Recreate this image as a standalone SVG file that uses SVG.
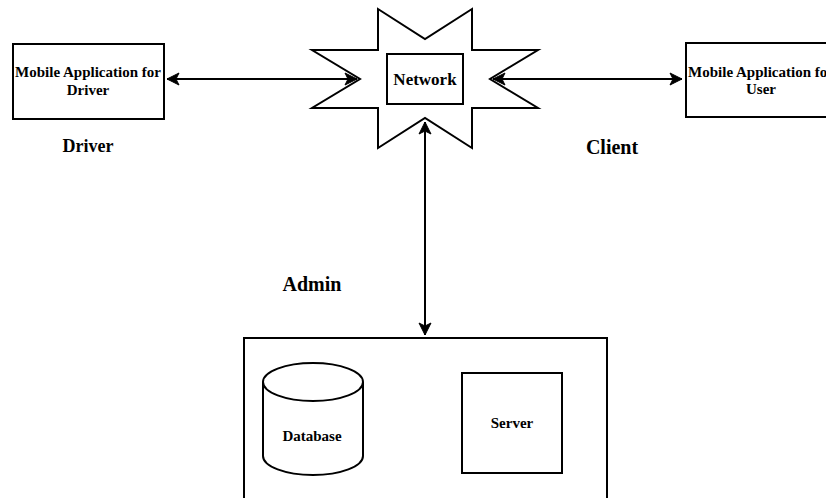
<svg xmlns="http://www.w3.org/2000/svg" width="826" height="498" viewBox="0 0 826 498">
<style>
.box{fill:#fff;stroke:#000;stroke-width:2}
.t{font-family:"Liberation Serif","Times New Roman",serif;font-weight:bold;fill:#000;text-anchor:middle}
.c{stroke:#000;stroke-width:2;fill:none}
</style>
<defs>
<marker id="ae" markerUnits="userSpaceOnUse" markerWidth="14" markerHeight="14" viewBox="0 0 14 14" refX="13" refY="7" orient="auto-start-reverse">
<path d="M1,1 L13,7 L1,13 L4,7 Z" fill="#000" stroke="#000" stroke-width="1"/>
</marker>
</defs>
<rect width="826" height="498" fill="#fff"/>
<g id="connectors">
<line class="c" x1="167" y1="79" x2="357" y2="79" marker-start="url(#ae)" marker-end="url(#ae)"/>
<line class="c" x1="493" y1="79" x2="682" y2="79" marker-start="url(#ae)" marker-end="url(#ae)"/>
<line class="c" x1="425" y1="122" x2="425" y2="335" marker-start="url(#ae)" marker-end="url(#ae)"/>
<line class="c" x1="365" y1="425" x2="458" y2="425" marker-start="url(#ae)" marker-end="url(#ae)"/>
</g>
<g id="driver-app">
<rect class="box" x="13" y="44" width="151" height="75"/>
<text class="t" x="88" y="77" font-size="15">Mobile Application for</text>
<text class="t" x="88" y="95" font-size="15">Driver</text>
</g>
<g id="network">
<polygon class="box" points="378,9 425,39 472,9 472,50 538,50 490,79 538,108 472,108 472,148 425,118 378,148 378,108 312,108 360,79 312,50 378,50"/>
<rect class="box" x="387" y="54" width="76" height="50"/>
<text class="t" x="425" y="85" font-size="17">Network</text>
</g>
<g id="user-app">
<rect class="box" x="686" y="43" width="151" height="74"/>
<text class="t" x="761" y="77" font-size="15">Mobile Application for</text>
<text class="t" x="761" y="94" font-size="15">User</text>
</g>
<g id="labels">
<text class="t" x="88" y="152" font-size="18">Driver</text>
<text class="t" x="612" y="154" font-size="20">Client</text>
<text class="t" x="312" y="291" font-size="20">Admin</text>
</g>
<g id="admin">
<rect class="box" x="244" y="338" width="363" height="175"/>
</g>
<g id="database">
<path class="box" d="M263,382 A50,19 0 0 1 363,382 L363,456 A50,19 0 0 1 263,456 Z"/>
<path class="c" d="M263,382 A50,19 0 0 0 363,382"/>
<text class="t" x="312" y="441" font-size="15">Database</text>
</g>
<g id="server">
<rect class="box" x="462" y="373" width="100" height="100"/>
<text class="t" x="512" y="428" font-size="15">Server</text>
</g>
</svg>
